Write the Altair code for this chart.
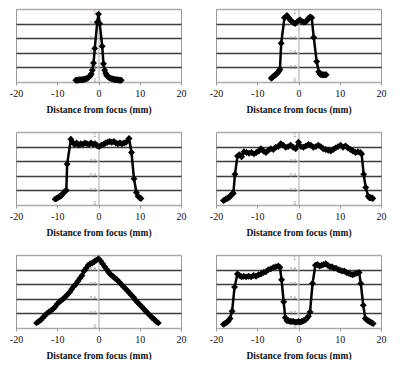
import altair as alt
import pandas as pd

# ---- data ----
X_TICKS = [-20, -10, 0, 10, 20]
Y_TICKS = [0, 0.2, 0.4, 0.6, 0.8, 1]
X_TITLE = "Distance from focus (mm)"

# panel 1: narrow peak
p1_x = [-5.5, -5.25, -5.0, -4.75, -4.5, -4.25, -4.0, -3.75, -3.5, -3.25, -3.0, -2.75, -2.5, -2.25, -2.0, -1.75,
        -1.5, -1.2, -0.9, -0.3, 0.0, 0.3, 0.9, 1.2, 1.5, 1.75,
        2.0, 2.25, 2.5, 2.75, 3.0, 3.25, 3.5, 3.75, 4.0, 4.25, 4.5, 4.75, 5.0, 5.25, 5.5]
p1_y = [0.025, 0.025, 0.025, 0.03, 0.03, 0.03, 0.03, 0.035, 0.035, 0.04, 0.045, 0.05, 0.06, 0.07, 0.085, 0.11,
        0.16, 0.26, 0.46, 0.82, 0.93, 0.80, 0.49, 0.25, 0.16, 0.12,
        0.09, 0.075, 0.065, 0.055, 0.05, 0.045, 0.04, 0.035, 0.035, 0.03, 0.03, 0.03, 0.025, 0.025, 0.025]

# panel 2
p2_x = [-6.6, -6.4, -6.2, -6.0, -5.8, -5.6, -5.4, -5.2, -5.0, -4.8, -4.5, -4.2, -3.4, -2.8, -2.4, -2.0, -1.6,
        -1.2, -0.8, -0.4, 0.0, 0.4, 0.8, 1.2, 1.6, 2.0, 2.4, 2.8, 3.2, 3.7, 4.4, 4.9, 5.2, 5.5, 5.8, 6.1,
        6.4, 6.7]
p2_y = [0.05, 0.06, 0.07, 0.08, 0.09, 0.10, 0.11, 0.12, 0.13, 0.15, 0.17, 0.53, 0.88, 0.91, 0.88, 0.85, 0.83,
        0.81, 0.80, 0.82, 0.84, 0.85, 0.83, 0.82, 0.82, 0.84, 0.87, 0.89, 0.88, 0.61, 0.28, 0.14, 0.11, 0.10, 0.10, 0.10,
        0.10, 0.10]

# panel 3
p3_x = [-10.5, -10.2, -9.9, -9.6, -9.3, -9.0, -8.7, -8.4, -8.1, -7.8, -7.6, -6.7, -6.3, -5.8, -5.3, -4.8, -4.3,
        -3.8, -3.3, -2.8, -2.3, -1.8, -1.3, -0.8, -0.3, 0.2, 0.7, 1.2, 1.7, 2.2, 2.7, 3.2, 3.7, 4.2, 4.7, 5.2,
        5.7, 6.2, 6.7, 7.4, 8.0, 8.6, 9.2, 9.6, 10.0, 10.3]
p3_y = [0.08, 0.09, 0.10, 0.11, 0.12, 0.13, 0.15, 0.17, 0.19, 0.20, 0.56, 0.90, 0.86, 0.83, 0.85, 0.82, 0.84,
        0.83, 0.85, 0.84, 0.83, 0.85, 0.83, 0.84, 0.81, 0.80, 0.82, 0.83, 0.85, 0.86, 0.87, 0.86, 0.87, 0.85, 0.84, 0.85,
        0.84, 0.85, 0.86, 0.91, 0.72, 0.36, 0.17, 0.12, 0.10, 0.09]

# panel 4
p4_x = [-18.2, -17.9, -17.6, -17.3, -17.0, -16.7, -16.4, -16.1, -15.8, -15.4, -14.8, -14.3, -13.8, -13.2, -12.6,
        -12.0, -11.4, -10.8, -10.2, -9.6, -9.1, -8.5, -7.9, -7.3, -6.7, -6.1, -5.5, -4.9, -4.3, -3.7, -3.1, -2.5,
        -1.9, -1.3, -0.7, 0.0, 0.6, 1.2, 1.8, 2.4, 3.0, 3.6, 4.2, 4.8, 5.4, 6.0, 6.6, 7.2, 7.8, 8.4, 9.0, 9.6,
        10.2, 10.8, 11.4, 12.0, 12.6, 13.2, 13.8, 14.4, 15.0, 15.3, 15.8, 16.3, 16.9, 17.2, 17.5, 17.8, 18.0]
p4_y = [0.06, 0.07, 0.08, 0.09, 0.10, 0.11, 0.13, 0.15, 0.16, 0.42, 0.67, 0.69, 0.66, 0.73, 0.72,
        0.71, 0.72, 0.70, 0.72, 0.74, 0.77, 0.74, 0.72, 0.75, 0.77, 0.76, 0.79, 0.80, 0.84, 0.82, 0.79, 0.80,
        0.82, 0.79, 0.77, 0.86, 0.80, 0.79, 0.81, 0.83, 0.82, 0.79, 0.80, 0.82, 0.80, 0.77, 0.76, 0.75, 0.74, 0.76, 0.78, 0.80,
        0.82, 0.79, 0.81, 0.78, 0.76, 0.74, 0.72, 0.73, 0.72, 0.70, 0.42, 0.24, 0.12, 0.10, 0.10, 0.10, 0.09]

# panel 5: triangle
p5_x = [-15.0, -14.5, -14.0, -13.5, -13.0, -12.5, -12.0, -11.5, -11.0, -10.5, -10.0, -9.5, -9.0, -8.5, -8.0,
        -7.5, -7.0, -6.5, -6.0, -5.5, -5.0, -4.5, -4.0, -3.5, -3.0, -2.5, -2.0, -1.5, -1.0, -0.5, 0.0, 0.5,
        1.0, 1.5, 2.0, 2.5, 3.0, 3.5, 4.0, 4.5, 5.0, 5.5, 6.0, 6.5, 7.0, 7.5, 8.0, 8.5, 9.0, 9.5, 10.0, 10.5,
        11.0, 11.5, 12.0, 12.5, 13.0, 13.5, 14.0, 14.5]
p5_y = [0.07, 0.09, 0.11, 0.14, 0.17, 0.20, 0.22, 0.24, 0.26, 0.29, 0.33, 0.36, 0.38, 0.40, 0.43,
        0.46, 0.49, 0.53, 0.57, 0.60, 0.64, 0.68, 0.72, 0.78, 0.82, 0.86, 0.88, 0.89, 0.91, 0.93, 0.95, 0.92,
        0.88, 0.84, 0.80, 0.76, 0.73, 0.71, 0.68, 0.66, 0.63, 0.60, 0.57, 0.54, 0.51, 0.48, 0.45, 0.42, 0.38, 0.35, 0.32, 0.29,
        0.26, 0.23, 0.20, 0.17, 0.14, 0.12, 0.09, 0.07]

# panel 6: two plateaus
p6_x = [-18.2, -17.9, -17.6, -17.3, -17.0, -16.6, -16.1, -15.5, -14.8, -14.3, -13.8, -13.3, -12.7, -12.1, -11.5,
        -10.9, -10.3, -9.7, -9.1, -8.5, -7.9, -7.3, -6.7, -6.1, -5.5, -4.9, -4.5, -4.1, -3.6, -3.2, -2.8, -2.4,
        -2.0, -1.6, -1.2, -0.8, -0.4, 0.0, 0.4, 0.8, 1.2, 1.6, 2.0, 2.4, 2.8, 3.4, 4.1, 4.6, 5.1, 5.6, 6.1,
        6.6, 7.1, 7.6, 8.1, 8.6, 9.1, 9.6, 10.1, 10.6, 11.1, 11.6, 12.1, 12.6, 13.1, 13.6, 14.1, 14.7, 15.1,
        15.7, 16.2, 16.6, 16.9, 17.2, 17.5, 17.8, 18.1]
p6_y = [0.05, 0.06, 0.07, 0.08, 0.10, 0.13, 0.23, 0.56, 0.74, 0.72, 0.70, 0.71, 0.70, 0.71, 0.70,
        0.72, 0.71, 0.73, 0.74, 0.76, 0.77, 0.80, 0.81, 0.83, 0.84, 0.85, 0.83, 0.66, 0.36, 0.14, 0.10, 0.10,
        0.09, 0.09, 0.09, 0.08, 0.08, 0.09, 0.08, 0.09, 0.10, 0.11, 0.13, 0.16, 0.22, 0.61, 0.86, 0.87, 0.85, 0.86, 0.87,
        0.88, 0.86, 0.84, 0.84, 0.82, 0.82, 0.80, 0.79, 0.78, 0.78, 0.76, 0.75, 0.74, 0.73, 0.74, 0.75, 0.76, 0.61,
        0.31, 0.13, 0.11, 0.10, 0.09, 0.08, 0.07, 0.06]

SERIF = "Liberation Serif"
W, H = 165, 73


def panel(xs, ys):
    df = pd.DataFrame({"x": xs, "y": ys})
    xenc = alt.X(
        "x:Q",
        scale=alt.Scale(domain=[-20, 20], nice=False),
        axis=alt.Axis(
            values=X_TICKS, title=X_TITLE, grid=False, domain=False, labelFlush=False,
            labelExpr="replace(datum.label, '\u2212', '-')",
            tickColor="#999999", tickSize=3, labelPadding=3,
            labelFont=SERIF, labelFontSize=10, labelColor="#111111",
            titleFont=SERIF, titleFontSize=9.5, titleFontWeight="bold",
            titleColor="#111111", titlePadding=6,
        ),
    )
    yenc = alt.Y(
        "y:Q",
        scale=alt.Scale(domain=[0, 1], nice=False),
        axis=alt.Axis(
            values=Y_TICKS, title=None, format="~g", offset=-W / 2,
            grid=True, labelFlush=True,
            gridColor={"condition": {"test": "datum.value >= 1 || datum.value <= 0",
                                     "value": "#aaaaaa"}, "value": "#3c3c3c"},
            gridWidth=1.6,
            domainColor="#aaaaaa", tickColor="#aaaaaa", tickSize=2,
            labelFontSize=4.5, labelColor="#888888", labelPadding=1,
            labelFont="Liberation Sans",
        ),
    )
    base = alt.Chart(df).encode(x=xenc, y=yenc)
    line = base.mark_line(color="black", strokeWidth=2.5)
    pts = base.mark_point(shape="diamond", filled=True, color="black", size=48, opacity=1)
    return alt.layer(line, pts).properties(width=W, height=H)


chart = alt.concat(
    panel(p1_x, p1_y), panel(p2_x, p2_y),
    panel(p3_x, p3_y), panel(p4_x, p4_y),
    panel(p5_x, p5_y), panel(p6_x, p6_y),
    columns=2, spacing={"row": 50, "column": 35}, bounds="flush",
).properties(
    padding={"left": 0, "top": 0, "right": 0, "bottom": 0},
    background="white",
).configure_view(stroke="#999999", strokeWidth=1)

chart.save("out.html", embed_options={"renderer": "svg", "actions": False})
